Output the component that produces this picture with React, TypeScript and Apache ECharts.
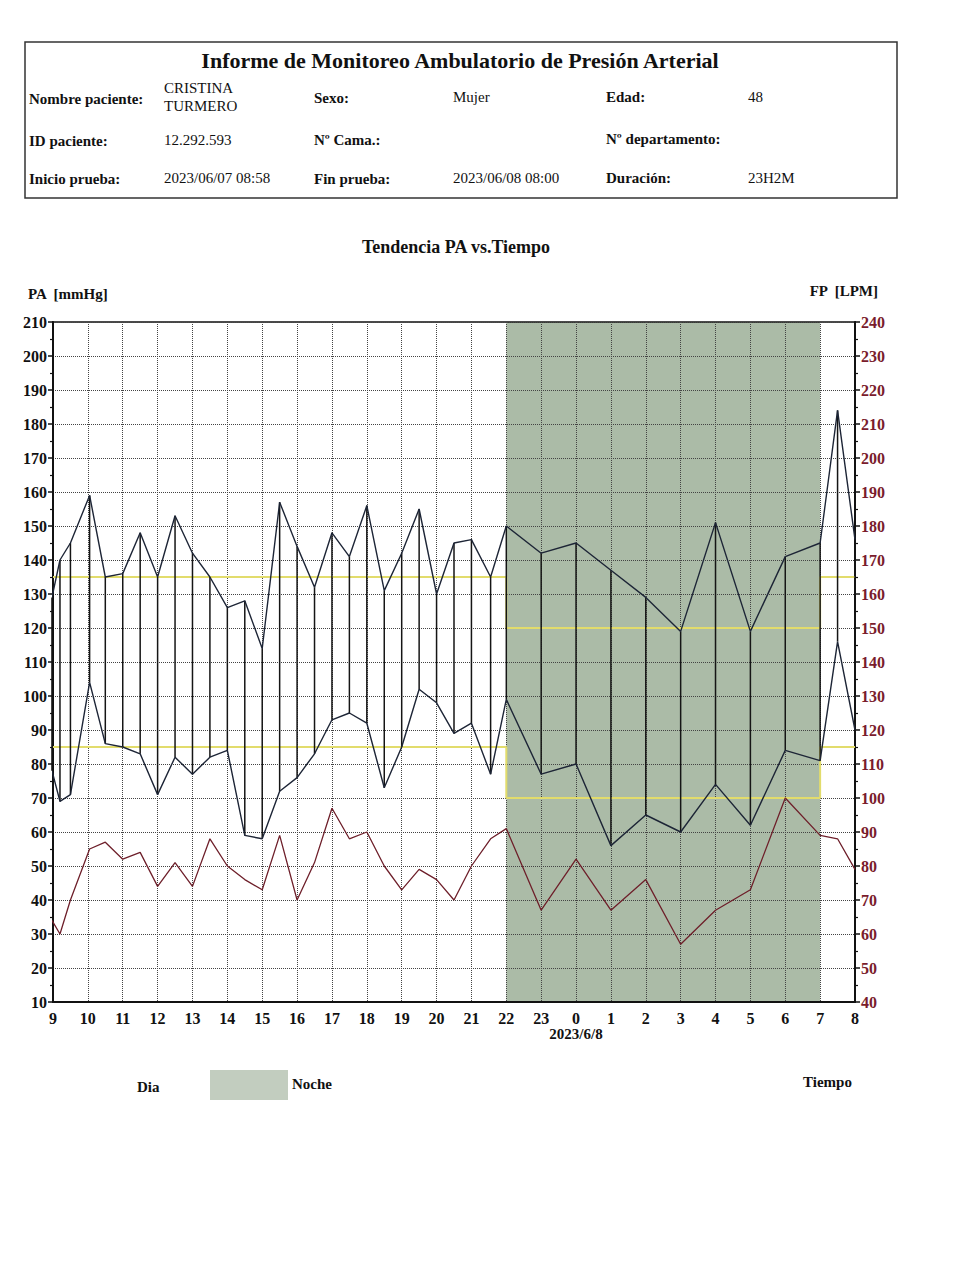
import React, { useEffect, useRef } from "react";
import * as echarts from "echarts";

// ---- data ----
const times = [8.97, 9.2, 9.5, 10.05, 10.5, 11, 11.5, 12, 12.5, 13, 13.5, 14, 14.5, 15, 15.5, 16, 16.5, 17, 17.5, 18, 18.5, 19, 19.5, 20, 20.5, 21, 21.55, 22, 23, 24, 25, 26, 27, 28, 29, 30, 31, 31.5, 32];
const systolic = [129, 140, 145, 159, 135, 136, 148, 135, 153, 142, 135, 126, 128, 114, 157, 144, 132, 148, 141, 156, 131, 142, 155, 130, 145, 146, 135, 150, 142, 145, 137, 129, 119, 151, 119, 141, 145, 184, 146];
const diastolic = [78, 69, 71, 104, 86, 85, 83, 71, 82, 77, 82, 84, 59, 58, 72, 76, 83, 93, 95, 92, 73, 85, 102, 98, 89, 92, 77, 99, 77, 80, 56, 65, 60, 74, 62, 84, 81, 116, 90];
const pulse = [64, 60, 70, 85, 87, 82, 84, 74, 81, 74, 88, 80, 76, 73, 89, 70, 81, 97, 88, 90, 80, 73, 79, 76, 70, 80, 88, 91, 67, 82, 67, 76, 57, 67, 73, 100, 89, 88, 79];

const limitX = [9, 22, 22, 31, 31, 32];
const sysLimit = [135, 135, 120, 120, 135, 135];
const diaLimit = [85, 85, 70, 70, 85, 85];

const nightPeriod = [22, 31];

const FONT = '"Liberation Serif", "Times New Roman", serif';

function txt(text: string, x: number, y: number, size: number, bold: boolean, align = "left", fill = "#111") {
  return {
    type: "text",
    x,
    y,
    style: {
      text,
      font: `${bold ? "bold " : ""}${size}px ${FONT}`,
      fill,
      align,
      verticalAlign: "middle",
    },
  };
}

export default function App() {
  const ref = useRef<HTMLDivElement>(null);

  useEffect(() => {
    if (!ref.current) return;
    const chart = echarts.init(ref.current, undefined, { renderer: "svg" });

    const zip = (xs: number[], ys: number[]) => xs.map((x, i) => [x, ys[i]]);

    const option: any = {
      animation: false,
      backgroundColor: "#ffffff",
      grid: {
        left: 53,
        right: 99,
        top: 322,
        bottom: 278,
        show: true,
        borderColor: "#111",
        borderWidth: 1.5,
        backgroundColor: "transparent",
      },
      xAxis: {
        type: "value",
        min: 9,
        max: 32,
        interval: 1,
        axisLine: { show: true, lineStyle: { color: "#111", width: 2 } },
        axisTick: { show: false },
        splitLine: { show: true, lineStyle: { color: "#444", type: "dotted", width: 1 } },
        axisLabel: {
          margin: 7,
          color: "#111",
          fontFamily: FONT,
          fontWeight: "bold",
          fontSize: 16,
          formatter: (v: number) => {
            const h = Math.round(v) % 24;
            if (Math.round(v) === 24) return "{a|0}\n{d|2023/6/8}";
            return "{a|" + h + "}";
          },
          rich: {
            a: { fontFamily: FONT, fontWeight: "bold", fontSize: 16, color: "#111", lineHeight: 18 },
            d: { fontFamily: FONT, fontWeight: "bold", fontSize: 15, color: "#111", lineHeight: 14 },
          },
        },
      },
      yAxis: [
        {
          type: "value",
          min: 10,
          max: 210,
          interval: 10,
          position: "left",
          axisLine: { show: true, lineStyle: { color: "#111", width: 2 } },
          axisTick: { show: true, length: 5, lineStyle: { color: "#111", width: 1.5 } },
          minorTick: { show: true, splitNumber: 2, length: 3, lineStyle: { color: "#111", width: 1.2 } },
          splitLine: { show: true, lineStyle: { color: "#444", type: "dotted", width: 1 } },
          axisLabel: {
            margin: 6,
            color: "#111",
            fontFamily: FONT,
            fontWeight: "bold",
            fontSize: 16,
          },
        },
        {
          type: "value",
          min: 40,
          max: 240,
          interval: 10,
          position: "right",
          axisLine: { show: true, lineStyle: { color: "#111", width: 2 } },
          axisTick: { show: true, length: 5, lineStyle: { color: "#111", width: 1.5 } },
          minorTick: { show: true, splitNumber: 2, length: 3, lineStyle: { color: "#111", width: 1.2 } },
          splitLine: { show: false },
          axisLabel: {
            margin: 6,
            color: "#7a1c2c",
            fontFamily: FONT,
            fontWeight: "bold",
            fontSize: 16,
          },
        },
      ],
      series: [
        {
          name: "noche",
          type: "custom",
          data: [nightPeriod],
          encode: { x: [0, 1] },
          z: -1,
          silent: true,
          renderItem: (params: any, api: any) => {
            const cs = params.coordSys;
            const a = api.coord([api.value(0), 10]);
            const b = api.coord([api.value(1), 10]);
            return {
              type: "rect",
              shape: { x: a[0], y: cs.y, width: b[0] - a[0], height: cs.height },
              style: { fill: "#abbba7" },
            };
          },
        },
        {
          name: "limite sis",
          type: "line",
          data: zip(limitX, sysLimit),
          symbol: "none",
          lineStyle: { color: "#e2dc6c", width: 2 },
          z: 1,
          silent: true,
        },
        {
          name: "limite dia",
          type: "line",
          data: zip(limitX, diaLimit),
          symbol: "none",
          lineStyle: { color: "#e2dc6c", width: 2 },
          z: 1,
          silent: true,
        },
        {
          name: "medidas",
          type: "custom",
          data: times.map((t, i) => [t, systolic[i], diastolic[i]]),
          encode: { x: 0, y: [1, 2] },
          renderItem: (params: any, api: any) => {
            const x = api.value(0);
            const p1 = api.coord([x, api.value(1)]);
            const p2 = api.coord([x, api.value(2)]);
            return {
              type: "line",
              shape: { x1: p1[0], y1: p1[1], x2: p2[0], y2: p2[1] },
              style: { stroke: "#151515", lineWidth: 1.5 },
            };
          },
          z: 3,
          silent: true,
        },
        {
          name: "sistolica",
          type: "line",
          data: zip(times, systolic),
          symbol: "none",
          clip: true,
          lineStyle: { color: "#1d2536", width: 1.4 },
          z: 4,
        },
        {
          name: "diastolica",
          type: "line",
          data: zip(times, diastolic),
          symbol: "none",
          clip: true,
          lineStyle: { color: "#1d2536", width: 1.4 },
          z: 4,
        },
        {
          name: "pulso",
          type: "line",
          yAxisIndex: 1,
          data: zip(times, pulse),
          symbol: "none",
          clip: true,
          lineStyle: { color: "#6e1f2a", width: 1.3 },
          z: 4,
        },
      ],
      graphic: [
        {
          type: "rect",
          shape: { x: 25, y: 42, width: 872, height: 156 },
          style: { fill: "none", stroke: "#333", lineWidth: 1.5 },
        },
        txt("Informe de Monitoreo Ambulatorio de Presión Arterial", 460, 60, 22, true, "center"),
        txt("Nombre paciente:", 29, 99, 15, true),
        txt("CRISTINA", 164, 88, 15, false),
        txt("TURMERO", 164, 106, 15, false),
        txt("Sexo:", 314, 98, 15, true),
        txt("Mujer", 453, 97, 15, false),
        txt("Edad:", 606, 97, 15, true),
        txt("48", 748, 97, 15, false),
        txt("ID paciente:", 29, 141, 15, true),
        txt("12.292.593", 164, 140, 15, false),
        txt("Nº Cama.:", 314, 140, 15, true),
        txt("Nº departamento:", 606, 139, 15, true),
        txt("Inicio prueba:", 29, 179, 15, true),
        txt("2023/06/07 08:58", 164, 178, 15, false),
        txt("Fin prueba:", 314, 179, 15, true),
        txt("2023/06/08 08:00", 453, 178, 15, false),
        txt("Duración:", 606, 178, 15, true),
        txt("23H2M", 748, 178, 15, false),
        txt("Tendencia PA vs.Tiempo", 456, 247, 18, true, "center"),
        txt("PA  [mmHg]", 28, 294, 15, true),
        txt("FP  [LPM]", 878, 291, 15, true, "right"),
        txt("Dia", 137, 1087, 15, true),
        {
          type: "rect",
          shape: { x: 210, y: 1070, width: 78, height: 30 },
          style: { fill: "#c2cdbf", stroke: "none" },
        },
        txt("Noche", 292, 1084, 15, true),
        txt("Tiempo", 803, 1082, 15, true),
      ],
    };

    chart.setOption(option);
    return () => chart.dispose();
  }, []);

  return (
    <div
      ref={ref}
      style={{ position: "absolute", left: 0, top: 0, width: 954, height: 1280, background: "#fff" }}
    />
  );
}
